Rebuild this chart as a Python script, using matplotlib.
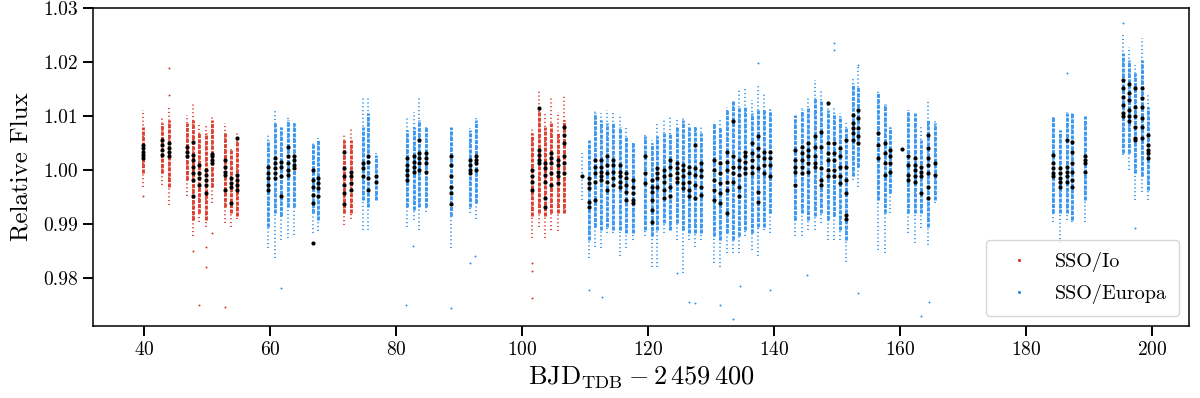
import matplotlib
matplotlib.use("Agg")
import matplotlib.pyplot as plt
from matplotlib.lines import Line2D

plt.rcParams['font.family'] = 'serif'
plt.rcParams['font.serif'] = ['cmr10', 'DejaVu Serif']
plt.rcParams['mathtext.fontset'] = 'cm'
plt.rcParams['axes.formatter.use_mathtext'] = True

# nights: time, telescope, binned fluxes, dense part of the cloud, full extent of the cloud
night_t = [39.8, 42.8, 43.9, 46.8, 47.8, 48.8, 49.8, 50.8, 52.9, 53.8, 54.8,
           59.7, 60.8, 61.7, 62.8, 63.8, 66.8, 67.7, 71.8, 72.8, 74.7, 75.6, 76.8,
           81.7, 82.8, 83.7, 84.7, 88.7, 91.7, 92.7,
           101.6, 102.7, 103.7, 104.6, 105.7, 106.7, 109.5,
           110.6, 111.6, 112.6, 113.5, 114.5, 115.6, 116.6, 117.6,
           119.5, 120.6, 121.5, 122.5, 123.5, 124.6, 125.5, 126.5, 127.5, 128.5,
           130.5, 131.5, 132.6, 133.5, 134.5, 135.4, 136.5, 137.4, 138.4, 139.4,
           143.4, 144.5, 145.4, 146.5, 147.5, 148.6, 149.5, 150.5, 151.4, 152.5, 153.4,
           156.6, 157.6, 158.4, 160.3, 161.3, 162.4, 163.4, 164.5, 165.6,
           184.3, 185.4, 186.5, 187.4, 189.4,
           195.4, 196.4, 197.3, 198.4, 199.4]
night_tel = (['Io'] * 11 + ['Europa'] * 7 + ['Io'] * 2 + ['Europa'] * 10
             + ['Io'] * 6 + ['Europa'] * 59)

night_bins = [
    [1.0046, 1.0040, 1.0034, 1.0028, 1.0022],
    [1.0056, 1.0046, 1.0037, 1.0028],
    [1.0049, 1.0040, 1.0034, 1.0025],
    [1.0043, 1.0034, 1.0025],
    [1.0052, 1.0028, 1.0019, 1.0006, 0.9994, 0.9981, 0.9951],
    [1.0009, 0.9994, 0.9985, 0.9972],
    [1.0000, 0.9991, 0.9981, 0.9972, 0.9957],
    [1.0030, 1.0025, 1.0019, 1.0012],
    [1.0019, 1.0006, 0.9997, 0.9991, 0.9963],
    [0.9985, 0.9975, 0.9969, 0.9938],
    [1.0059, 0.9991, 0.9981, 0.9972, 0.9963],
    [1.0006, 0.9994, 0.9985, 0.9972, 0.9963],
    [1.0022, 1.0012, 1.0003, 0.9994, 0.9985],
    [1.0015, 1.0006, 0.9988, 0.9951],
    [1.0043, 1.0025, 1.0012, 1.0000, 0.9991],
    [1.0025, 1.0019, 1.0009, 1.0003],
    [1.0000, 0.9981, 0.9969, 0.9954, 0.9938, 0.9864],
    [0.9985, 0.9975, 0.9966, 0.9951],
    [1.0034, 1.0003, 0.9988, 0.9972, 0.9957, 0.9937],
    [0.9997, 0.9988, 0.9975, 0.9963],
    [1.0012, 1.0003, 0.9988],
    [1.0025, 1.0015, 0.9985, 0.9963],
    [0.9988, 0.9978],
    [1.0022, 1.0009, 1.0000, 0.9991, 0.9981],
    [1.0025, 1.0015, 1.0006, 0.9997],
    [1.0056, 1.0031, 1.0022, 1.0012, 1.0000],
    [1.0031, 1.0022, 1.0012, 0.9997],
    [1.0025, 1.0009, 0.9988, 0.9969, 0.9957, 0.9937],
    [1.0019, 1.0009, 1.0000, 0.9994],
    [1.0025, 1.0019, 1.0012, 1.0000],
    [1.0000, 0.9988, 0.9978, 0.9963],
    [1.0114, 1.0037, 1.0028, 1.0019, 1.0012],
    [1.0012, 1.0003, 0.9991, 0.9978, 0.9948, 0.9932],
    [1.0031, 1.0022, 1.0012, 0.9994, 0.9972],
    [1.0019, 1.0009, 0.9997, 0.9988, 0.9975],
    [1.0080, 1.0065, 1.0049, 1.0025, 1.0012, 0.9994],
    [0.9988],
    [0.9985, 0.9975, 0.9966, 0.9941, 0.9932],
    [1.0019, 1.0006, 0.9994, 0.9978, 0.9944],
    [1.0019, 1.0006, 0.9997, 0.9988, 0.9981],
    [1.0025, 1.0009, 0.9994, 0.9978, 0.9963],
    [1.0019, 1.0009, 0.9997, 0.9985, 0.9972],
    [1.0009, 0.9997, 0.9988, 0.9978, 0.9969],
    [0.9994, 0.9985, 0.9972, 0.9960, 0.9944],
    [0.9981, 0.9969, 0.9957, 0.9944, 0.9938],
    [1.0025, 0.9994, 0.9975],
    [0.9981, 0.9969, 0.9960, 0.9944, 0.9926, 0.9904],
    [1.0003, 0.9994, 0.9985, 0.9969],
    [1.0000, 0.9988, 0.9978, 0.9963, 0.9948],
    [1.0019, 1.0006, 0.9991, 0.9969, 0.9951],
    [1.0012, 1.0003, 0.9994, 0.9985, 0.9978],
    [1.0009, 1.0000, 0.9988, 0.9975, 0.9966],
    [1.0006, 0.9994, 0.9978, 0.9963, 0.9951],
    [1.0046, 1.0003, 0.9991, 0.9972, 0.9948],
    [1.0012, 1.0000, 0.9988, 0.9969, 0.9954],
    [1.0019, 1.0000, 0.9981, 0.9963, 0.9944],
    [1.0012, 0.9994, 0.9975, 0.9957, 0.9938],
    [1.0034, 1.0015, 1.0000, 0.9978, 0.9963, 0.9920],
    [1.0091, 1.0025, 1.0006, 0.9994, 0.9978],
    [1.0019, 1.0006, 0.9991, 0.9969, 0.9951],
    [1.0034, 1.0025, 1.0015, 1.0003, 0.9994],
    [1.0049, 1.0031, 1.0019, 1.0006, 0.9994],
    [1.0062, 1.0040, 1.0025, 1.0003, 0.9960, 0.9941],
    [1.0034, 1.0022, 1.0009, 0.9994],
    [1.0034, 1.0022, 1.0009, 0.9988],
    [1.0037, 1.0019, 1.0006, 0.9997, 0.9972],
    [1.0043, 1.0031, 1.0019, 1.0006, 0.9994],
    [1.0049, 1.0037, 1.0025, 1.0012, 0.9997],
    [1.0062, 1.0043, 1.0025, 1.0012, 1.0006],
    [1.0071, 1.0043, 1.0003, 0.9981, 0.9972],
    [1.0124, 1.0049, 1.0031, 1.0019, 1.0000, 0.9988],
    [1.0049, 1.0031, 1.0019, 1.0000, 0.9988],
    [1.0040, 1.0025, 1.0006, 0.9988, 0.9975],
    [1.0056, 1.0006, 0.9981, 0.9957, 0.9917, 0.9910],
    [1.0102, 1.0086, 1.0077, 1.0068, 1.0056],
    [1.0111, 1.0096, 1.0077, 1.0062, 1.0049],
    [1.0068, 1.0046, 1.0022],
    [1.0049, 1.0031, 1.0012, 0.9991],
    [1.0037, 1.0025, 1.0012, 0.9997],
    [1.0039],
    [1.0025, 1.0009, 0.9991, 0.9981],
    [1.0022, 1.0009, 1.0000, 0.9988, 0.9978],
    [1.0006, 0.9997, 0.9988, 0.9957],
    [1.0065, 1.0040, 1.0022, 1.0009, 0.9994, 0.9969, 0.9948],
    [1.0012, 0.9991],
    [1.0028, 1.0012, 1.0003, 0.9994, 0.9988],
    [1.0003, 0.9994, 0.9985, 0.9978, 0.9969],
    [1.0056, 1.0006, 0.9997, 0.9988, 0.9978],
    [1.0052, 1.0034, 1.0012, 0.9997, 0.9981, 0.9969],
    [1.0025, 1.0019, 1.0012, 0.9997],
    [1.0167, 1.0151, 1.0136, 1.0120, 1.0105, 1.0099],
    [1.0160, 1.0142, 1.0130, 1.0111, 1.0099, 1.0090],
    [1.0151, 1.0117, 1.0099, 1.0080, 1.0059, 1.0056],
    [1.0151, 1.0133, 1.0117, 1.0096, 1.0080, 1.0059],
    [1.0065, 1.0046, 1.0037, 1.0031, 1.0022],
]

core_lo = [0.9994, 0.9994, 0.9969, 0.9981, 0.9907, 0.9920, 0.9907, 0.9969, 0.9932, 0.9920, 0.9914,
           0.9895, 0.9920, 0.9914, 0.9932, 0.9932, 0.9920, 0.9907, 0.9920, 0.9920, 0.9944, 0.9932, 0.9944,
           0.9932, 0.9926, 0.9932, 0.9932, 0.9914, 0.9932, 0.9938,
           0.9914, 0.9920, 0.9914, 0.9920, 0.9920, 0.9920, 0.9988,
           0.9870, 0.9895, 0.9889, 0.9895, 0.9889, 0.9889, 0.9883, 0.9883,
           0.9889, 0.9877, 0.9889, 0.9901, 0.9889, 0.9901, 0.9889, 0.9883, 0.9883, 0.9883,
           0.9877, 0.9870, 0.9883, 0.9870, 0.9877, 0.9889, 0.9883, 0.9895, 0.9895, 0.9920,
           0.9907, 0.9920, 0.9907, 0.9914, 0.9920, 0.9907, 0.9914, 0.9889, 0.9870, 0.9988, 1.0006,
           0.9944, 0.9920, 0.9957, 1.0039, 0.9920, 0.9920, 0.9920, 0.9895, 0.9944,
           0.9920, 0.9920, 0.9920, 0.9907, 0.9944,
           1.0031, 1.0031, 0.9994, 0.9988, 0.9963]
core_hi = [1.0080, 1.0086, 1.0093, 1.0086, 1.0093, 1.0068, 1.0068, 1.0093, 1.0068, 1.0037, 1.0056,
           1.0056, 1.0086, 1.0080, 1.0093, 1.0086, 1.0049, 1.0056, 1.0056, 1.0056, 1.0080, 1.0105, 1.0028,
           1.0074, 1.0080, 1.0093, 1.0080, 1.0080, 1.0074, 1.0093,
           1.0068, 1.0111, 1.0080, 1.0086, 1.0068, 1.0093, 0.9988,
           1.0056, 1.0105, 1.0093, 1.0086, 1.0086, 1.0080, 1.0062, 1.0049,
           1.0062, 1.0049, 1.0062, 1.0068, 1.0068, 1.0080, 1.0093, 1.0080, 1.0080, 1.0068,
           1.0086, 1.0080, 1.0111, 1.0130, 1.0117, 1.0117, 1.0105, 1.0111, 1.0111, 1.0111,
           1.0102, 1.0111, 1.0117, 1.0136, 1.0130, 1.0111, 1.0105, 1.0099, 1.0080, 1.0160, 1.0154,
           1.0142, 1.0123, 1.0080, 1.0039, 1.0111, 1.0105, 1.0056, 1.0093, 1.0086,
           1.0099, 1.0074, 1.0105, 1.0105, 1.0099,
           1.0216, 1.0204, 1.0179, 1.0204, 1.0117]
ext_lo = [0.9969, 0.9972, 0.9935, 0.9951, 0.9877, 0.9904, 0.9895, 0.9938, 0.9901, 0.9895, 0.9910,
          0.9855, 0.9836, 0.9870, 0.9873, 0.9880, 0.9883, 0.9886, 0.9898, 0.9910, 0.9889, 0.9889, 0.9944,
          0.9895, 0.9907, 0.9889, 0.9923, 0.9855, 0.9920, 0.9910,
          0.9873, 0.9895, 0.9873, 0.9889, 0.9886, 0.9920, 0.9944,
          0.9836, 0.9858, 0.9855, 0.9883, 0.9883, 0.9840, 0.9855, 0.9870,
          0.9877, 0.9821, 0.9821, 0.9883, 0.9889, 0.9870, 0.9809, 0.9870, 0.9858, 0.9870,
          0.9827, 0.9821, 0.9846, 0.9846, 0.9846, 0.9877, 0.9852, 0.9840, 0.9889, 0.9883,
          0.9877, 0.9877, 0.9889, 0.9889, 0.9901, 0.9870, 0.9870, 0.9870, 0.9830, 0.9981, 0.9969,
          0.9852, 0.9846, 0.9920, 1.0039, 0.9883, 0.9864, 0.9892, 0.9861, 0.9938,
          0.9904, 0.9864, 0.9907, 0.9904, 0.9904,
          1.0028, 1.0000, 0.9944, 0.9960, 0.9944]
ext_hi = [1.0111, 1.0099, 1.0114, 1.0102, 1.0123, 1.0083, 1.0081, 1.0099, 1.0086, 1.0043, 1.0071,
          1.0068, 1.0111, 1.0080, 1.0096, 1.0086, 1.0049, 1.0059, 1.0065, 1.0080, 1.0136, 1.0136, 1.0031,
          1.0099, 1.0108, 1.0136, 1.0080, 1.0080, 1.0077, 1.0096,
          1.0080, 1.0148, 1.0105, 1.0133, 1.0108, 1.0139, 1.0031,
          1.0056, 1.0111, 1.0105, 1.0111, 1.0105, 1.0099, 1.0077, 1.0049,
          1.0065, 1.0056, 1.0086, 1.0093, 1.0099, 1.0096, 1.0099, 1.0086, 1.0083, 1.0083,
          1.0090, 1.0093, 1.0117, 1.0130, 1.0148, 1.0151, 1.0130, 1.0157, 1.0145, 1.0114,
          1.0102, 1.0114, 1.0136, 1.0167, 1.0148, 1.0123, 1.0117, 1.0105, 1.0086, 1.0173, 1.0194,
          1.0148, 1.0123, 1.0080, 1.0039, 1.0111, 1.0105, 1.0080, 1.0127, 1.0090,
          1.0102, 1.0077, 1.0108, 1.0108, 1.0099,
          1.0253, 1.0228, 1.0194, 1.0244, 1.0142]

# isolated points outside the clouds
io_out_t = [39.8, 43.9, 43.9, 47.8, 48.8, 49.8, 49.8, 50.8, 52.9, 101.6, 101.6, 101.6]
io_out_f = [0.9951, 1.0188, 1.0139, 0.9849, 0.9750, 0.9858, 0.9821, 0.9883, 0.9747, 0.9827, 0.9812, 0.9762]
eu_out_t = [61.7, 81.6, 82.7, 88.7, 91.7, 92.6, 110.6, 112.7, 124.6, 126.5, 127.5, 131.5, 133.5,
            134.6, 139.4, 145.3, 153.4, 149.6, 149.6, 137.4, 153.4, 186.5, 195.4, 197.3, 163.3, 164.6]
eu_out_f = [0.9781, 0.9750, 0.9859, 0.9744, 0.9827, 0.9841, 0.9778, 0.9765, 0.9810, 0.9756, 0.9753, 0.9750, 0.9723,
            0.9785, 0.9777, 0.9806, 0.9772, 1.0235, 1.0222, 1.0198, 1.0194, 1.0180, 1.0272, 0.9893, 0.9730, 0.9756]

colors = {'Io': '#d93222', 'Europa': '#2a8ff0'}

fig = plt.figure(figsize=(12, 3.98), dpi=100)
ax = fig.add_axes([0.0775, 0.181, 0.9133, 0.799])

# each night's cloud of exposures: sparse tails dotted, dense middle finely dashed
for tel in ['Io', 'Europa']:
    idx = [i for i in range(len(night_t)) if night_tel[i] == tel]
    tt = [night_t[i] for i in idx]
    ax.vlines(tt, [ext_lo[i] for i in idx], [ext_hi[i] for i in idx],
              colors=colors[tel], linestyles=(0, (0.7, 1.6)), lw=1.2, zorder=1)
    ax.vlines(tt, [core_lo[i] for i in idx], [core_hi[i] for i in idx],
              colors=colors[tel], linestyles=(0, (1.4, 0.45)), lw=2.1, alpha=0.9, zorder=1)

ax.scatter(io_out_t, io_out_f, s=2, color=colors['Io'], lw=0, zorder=1)
ax.scatter(eu_out_t, eu_out_f, s=2, color=colors['Europa'], lw=0, zorder=1)

bt, bf = [], []
for t, fl in zip(night_t, night_bins):
    for f in fl:
        bt.append(t)
        bf.append(f)
ax.scatter(bt, bf, s=9, color='black', lw=0, zorder=3)

ax.set_xlim(31.9, 205.9)
ax.set_ylim(0.9711, 1.03)
ax.set_xticks([40, 60, 80, 100, 120, 140, 160, 180, 200])
ax.set_yticks([0.98, 0.99, 1.00, 1.01, 1.02, 1.03])
ax.set_yticklabels(['0.98', '0.99', '1.00', '1.01', '1.02', '1.03'])
ax.tick_params(direction='out', length=7, width=1.4, labelsize=14)
for sp in ax.spines.values():
    sp.set_linewidth(1.1)

ax.set_xlabel(r'$\mathrm{BJD}_{\mathrm{TDB}} - 2\,459\,400$', fontsize=19, labelpad=4)
ax.set_ylabel('Relative Flux', fontsize=18, labelpad=8)

handles = [Line2D([], [], ls='none', marker='.', ms=2.5, color=colors['Io'], label='SSO/Io'),
           Line2D([], [], ls='none', marker='.', ms=2.5, color=colors['Europa'], label='SSO/Europa')]
ax.legend(handles=handles, loc='lower right', fontsize=14.5, handlelength=2, handletextpad=0.8,
          borderpad=0.6, labelspacing=0.6, framealpha=0.8, edgecolor='#cccccc')

fig.savefig('out.png', dpi=100)
